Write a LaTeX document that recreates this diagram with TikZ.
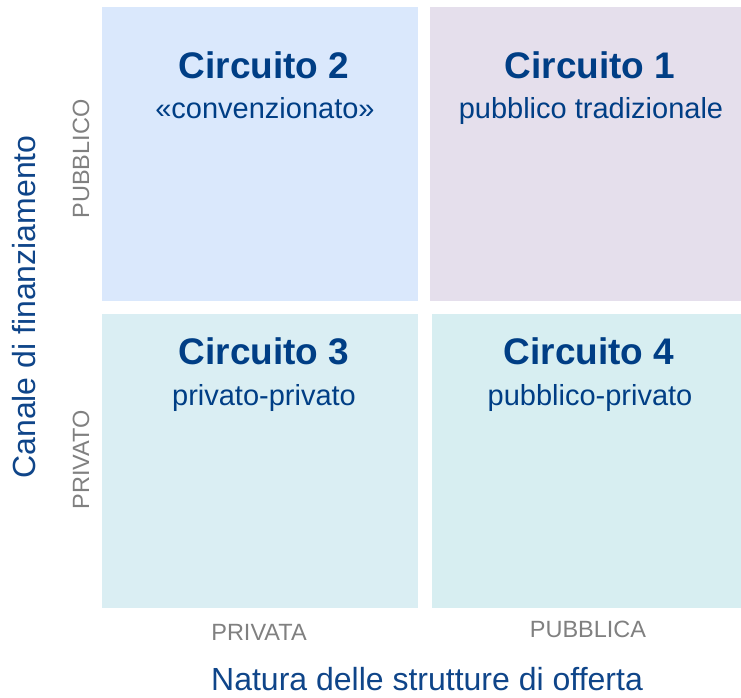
\documentclass[tikz,border=0pt]{standalone}
\usepackage{fontspec}
\setmainfont{Liberation Sans}
\usetikzlibrary{positioning}

\definecolor{titleblue}{HTML}{003E85}
\definecolor{axisblue}{HTML}{0F4589}
\definecolor{labelgray}{HTML}{808080}
\definecolor{boxblue}{HTML}{DAE8FC}
\definecolor{boxlilac}{HTML}{E5DFEC}
\definecolor{boxcyan}{HTML}{DAEEF3}
\definecolor{boxteal}{HTML}{D7EEF1}

\begin{document}
\begin{tikzpicture}[x=1pt, y=-1pt,
    quad/.style={rectangle, inner sep=0pt, anchor=north west},
    circtitle/.style={anchor=base, inner sep=0pt, text=titleblue, font=\fontsize{37}{40}\selectfont\bfseries},
    circsub/.style={anchor=base, inner sep=0pt, text=titleblue, font=\fontsize{29}{32}\selectfont},
    axislabel/.style={anchor=base, inner sep=0pt, text=labelgray, font=\fontsize{23.5}{26}\selectfont},
    axistitle/.style={anchor=base, inner sep=0pt, text=axisblue, font=\fontsize{32}{35}\selectfont}]
      \useasboundingbox (0,0) rectangle (741,697);

      % quadrants %
      \node[quad, fill=boxblue, minimum width=316pt, minimum height=294pt] (q2) at (102,7) {};
      \node[quad, fill=boxlilac, minimum width=311pt, minimum height=294pt] (q1) at (430,7) {};
      \node[quad, fill=boxcyan, minimum width=316pt, minimum height=294pt] (q3) at (102,314) {};
      \node[quad, fill=boxteal, minimum width=309pt, minimum height=294pt] (q4) at (432,314) {};

      % titles %
      \node[circtitle] (c2) at (264,78) {Circuito 2};
      \node[circsub] (s2) at (265,118) {«convenzionato»};
      \node[circtitle] (c1) at (590,78) {Circuito 1};
      \node[circsub] (s1) at (591,118) {pubblico tradizionale};
      \node[circtitle] (c3) at (264,364) {Circuito 3};
      \node[circsub] (s3) at (264,405) {privato-privato};
      \node[circtitle] (c4) at (589,364) {Circuito 4};
      \node[circsub] (s4) at (590,405) {pubblico-privato};

      % axes %
      \node[axislabel, rotate=90] (pubblico) at (89,159) {PUBBLICO};
      \node[axislabel, rotate=90] (privato) at (89,460) {PRIVATO};
      \node[axislabel] (privata) at (259,640) {PRIVATA};
      \node[axislabel] (pubblica) at (588,637) {PUBBLICA};
      \node[axistitle, rotate=90] (canale) at (35,307) {Canale di finanziamento};
      \node[axistitle] (natura) at (427,690) {Natura delle strutture di offerta};
        \end{tikzpicture}
\end{document}
